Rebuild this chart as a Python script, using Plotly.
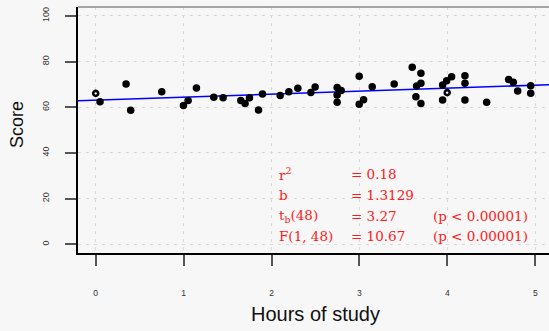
import plotly.graph_objects as go

# Study time (hours) and exam score for each student
hours = [0.049, 0.345, 0.398, 0.751, 0.998, 1.051, 1.146, 1.343, 1.449, 1.650,
         1.699, 1.749, 1.852, 1.897, 2.098, 2.197, 2.299, 2.447, 2.496, 2.746,
         2.746, 2.746, 2.792, 2.997, 2.997, 3.047, 3.145, 3.395, 3.600, 3.650,
         3.642, 3.699, 3.699, 3.699, 3.946, 3.992, 4.048, 3.946, 4.200, 4.200,
         4.200, 4.447, 4.697, 4.750, 4.800, 4.948, 4.948]
score = [62.4, 70.2, 58.7, 66.8, 60.8, 63.0, 68.4, 64.4, 64.2, 63.0,
         61.7, 64.2, 58.8, 65.8, 65.2, 66.8, 68.3, 66.5, 68.9, 68.6,
         65.4, 62.2, 67.3, 73.6, 61.3, 63.3, 69.0, 70.2, 77.5, 69.3,
         64.6, 74.9, 70.5, 61.7, 69.7, 71.6, 73.4, 63.2, 73.8, 70.5,
         63.2, 62.2, 72.2, 70.9, 67.1, 69.4, 66.1]

# Overlapping observations (drawn as ringed points)
overlap_hours = [0.0, 3.998]
overlap_score = [66.1, 66.4]

# Least-squares fit
intercept = 63.1
slope = 1.3129

# Fit statistics
stat_names = ["r<sup>2</sup>", "b", "t<sub>b</sub>(48)", "F(1, 48)"]
stat_values = ["= 0.18", "= 1.3129", "= 3.27", "= 10.67"]
stat_p = ["", "", "(p &lt; 0.00001)", "(p &lt; 0.00001)"]

x_ticks = [0, 1, 2, 3, 4, 5]
y_ticks = [0, 20, 40, 60, 80, 100]

x_range = [-0.2015, 5.156]
y_range = [-3.81, 103.9]

W, H = 549, 331
ML, MR, MT, MB = 78, 0, 7, 78
PW, PH = W - ML - MR, H - MT - MB


def px_x(px):
    return (px - ML) / PW


def px_y(py):
    return (H - MB - py) / PH


fig = go.Figure()

fit_x = list(x_range)
fit_y = [intercept + slope * v for v in fit_x]
fig.add_trace(go.Scatter(x=fit_x, y=fit_y, mode="lines",
                         line=dict(color="#0000ff", width=1.6),
                         hoverinfo="skip", showlegend=False))

fig.add_trace(go.Scatter(x=hours, y=score, mode="markers",
                         marker=dict(color="black", size=7.5, line=dict(width=0)),
                         showlegend=False))
fig.add_trace(go.Scatter(x=overlap_hours, y=overlap_score, mode="markers",
                         marker=dict(color="white", size=5,
                                     line=dict(color="black", width=2.6)),
                         showlegend=False))

grid = dict(showgrid=True, gridcolor="#d9d9d9", gridwidth=1, griddash="3px,5px")
tickfont = dict(family="Liberation Sans, Arial, sans-serif", size=8.5, color="#333333")

fig.update_xaxes(range=x_range, tickvals=x_ticks, ticks="outside", ticklen=11,
                 tickwidth=1.5, tickcolor="#555555", showline=True,
                 linecolor="black", linewidth=1.5, zeroline=False,
                 tickfont=tickfont, ticklabelstandoff=20, **grid)
fig.update_yaxes(range=y_range, tickvals=y_ticks, ticks="outside", ticklen=11,
                 tickwidth=1.5, tickcolor="#555555", showline=True,
                 linecolor="black", linewidth=1.5, zeroline=False,
                 tickangle=-90, tickfont=dict(tickfont, size=9),
                 ticklabelstandoff=13, **grid)

# Upper frame edge
fig.add_shape(type="line", xref="paper", yref="paper", x0=0, x1=1, y0=1, y1=1,
              line=dict(color="#888888", width=1.5))

title_font = dict(family="Liberation Sans, Arial, sans-serif", color="#111111")
fig.add_annotation(text="Hours of study", xref="paper", yref="paper",
                   x=px_x(315.5), y=px_y(313.5), xanchor="center", yanchor="middle",
                   showarrow=False, font=dict(size=20, **title_font))
fig.add_annotation(text="Score", xref="paper", yref="paper",
                   x=px_x(17), y=px_y(125), xanchor="center", yanchor="middle",
                   textangle=-90, showarrow=False, font=dict(size=18, **title_font))

stat_font = dict(family="DejaVu Serif, serif", size=13.5, color="#ff1a1a")
row_y = [174, 195, 215.5, 236]
for name, val, p, yy in zip(stat_names, stat_values, stat_p, row_y):
    fig.add_annotation(text=name, xref="paper", yref="paper", x=px_x(277),
                       y=px_y(yy), xanchor="left", yanchor="middle",
                       showarrow=False, font=stat_font)
    fig.add_annotation(text=val, xref="paper", yref="paper", x=px_x(349),
                       y=px_y(yy), xanchor="left", yanchor="middle",
                       showarrow=False, font=stat_font)
    if p:
        fig.add_annotation(text=p, xref="paper", yref="paper", x=px_x(431),
                           y=px_y(yy), xanchor="left", yanchor="middle",
                           showarrow=False, font=stat_font)

fig.update_layout(width=W, height=H,
                  margin=dict(l=ML, r=MR, t=MT, b=MB, pad=0),
                  paper_bgcolor="#f7f7f7", plot_bgcolor="#f7f7f7",
                  showlegend=False)

fig.write_html("out.html")
